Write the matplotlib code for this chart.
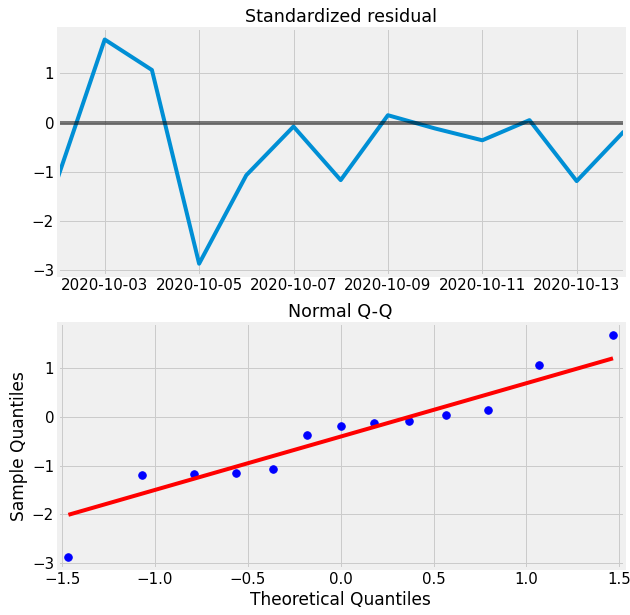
import numpy as np
import pandas as pd
import matplotlib
matplotlib.use('Agg')
import matplotlib.pyplot as plt
import matplotlib.dates as mdates

plt.style.use('fivethirtyeight')
plt.rcParams['xtick.labelsize'] = 15
plt.rcParams['ytick.labelsize'] = 15

# 표준화 잔차 (일별)
dates = pd.date_range('2020-10-02', '2020-10-14', freq='D')
resid = [-1.14, 1.69, 1.07, -2.87, -1.07, -0.08, -1.17, 0.15, -0.12, -0.36, 0.05, -1.19, -0.18]
tick_dates = ['2020-10-03', '2020-10-05', '2020-10-07', '2020-10-09', '2020-10-11', '2020-10-13']

# Q-Q 이론 분위수 (n=13, i/(n+1))
theo_q = [-1.466, -1.068, -0.792, -0.566, -0.366, -0.180, 0.0,
          0.180, 0.366, 0.566, 0.792, 1.068, 1.466]

fig = plt.figure(figsize=(630 / 72, 615 / 72), dpi=72, facecolor='white')

# 1. 표준화 잔차
ax1 = fig.add_axes([0.0913, 0.553, 0.899, 0.401])
ax1.plot(dates, resid)
ax1.hlines(0, dates[0], dates[-1], color='k', alpha=0.5)
ax1.set_xlim(dates[0], dates[-1])
ax1.set_xticks(pd.to_datetime(tick_dates))
ax1.xaxis.set_major_formatter(mdates.DateFormatter('%Y-%m-%d'))
ax1.set_yticks([-3, -2, -1, 0, 1])
ax1.set_title('Standardized residual', fontsize=17.5)

# 2. Normal Q-Q (표준화 기준선: 기울기=std, 절편=mean)
sample_q = np.sort(resid)
ax2 = fig.add_axes([0.0913, 0.0764, 0.899, 0.3976])
ax2.plot(theo_q, sample_q, 'o', color='b', markersize=7.5)
fit_x = np.array([theo_q[0], theo_q[-1]])
ax2.plot(fit_x, np.std(sample_q) * fit_x + np.mean(sample_q), color='r')
ax2.set_xmargin(0.02)
ax2.set_xticks([-1.5, -1.0, -0.5, 0.0, 0.5, 1.0, 1.5])
ax2.set_yticks([-3, -2, -1, 0, 1])
ax2.set_title('Normal Q-Q', fontsize=17.5)
ax2.set_xlabel('Theoretical Quantiles', fontsize=17)
ax2.set_ylabel('Sample Quantiles', fontsize=17)

fig.savefig('out.png', dpi=72, facecolor='white')
